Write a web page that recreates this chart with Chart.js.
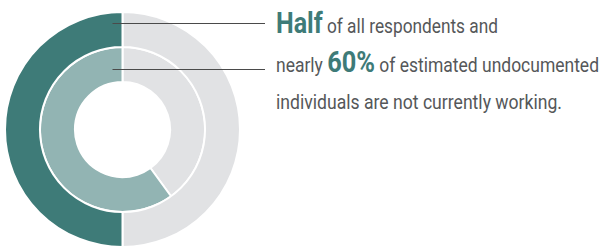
<!DOCTYPE html>
<html>
<head>
<meta charset="utf-8">
<script src="https://cdn.jsdelivr.net/npm/chart.js@4/dist/chart.umd.min.js"></script>
<style>
  html, body { margin: 0; padding: 0; background: #fff; }
  body { width: 603px; height: 248px; position: relative; overflow: hidden; }
  #wrap { position: absolute; left: 4px; top: 11px; width: 268px; height: 237px; }
  .t { position: absolute; left: 276px; top: 0; white-space: nowrap; color: #555759;
       font-family: Roboto, "Liberation Sans", sans-serif;
       font-size: 20px; line-height: 1; transform-origin: 0 0; }
  .b { color: #3e7b78; font-weight: bold; font-size: 29px; }
  .bl { display: inline-block; width: 0; height: 0; vertical-align: baseline; }
</style>
</head>
<body>
<div id="wrap"><canvas id="c"></canvas></div>
<div class="t" id="l1"><span class="b">Half</span> of all respondents and<span class="bl"></span></div>
<div class="t" id="l2">nearly <span class="b">60%</span> of estimated undocumented<span class="bl"></span></div>
<div class="t" id="l3">individuals are not currently working.<span class="bl"></span></div>
<script>
const categories = ["Other", "Not currently working"];
const allRespondents = [50, 50];
const undocumented = [40, 60];
const ringLabels = ["All respondents", "Estimated undocumented"];

// text layout: baseline y and right edge of each line as in the original
(function () {
  const lines = [['l1', 32.5, 498], ['l2', 72, 599], ['l3', 109, 562]];
  lines.forEach(([id, base, right]) => {
    const el = document.getElementById(id);
    const r = el.getBoundingClientRect();
    const b = el.querySelector('.bl').getBoundingClientRect().top;
    el.style.top = (base - (b - r.top)) + 'px';
    el.style.transform = 'scaleX(' + ((right - 276) / r.width) + ')';
  });
})();

const leaderLines = {
  id: 'leaderLines',
  afterDatasetsDraw(chart) {
    const ctx = chart.ctx;
    const canvasLeft = chart.canvas.getBoundingClientRect().left;
    const endX = 265 - canvasLeft;
    ctx.save();
    ctx.strokeStyle = '#4a4a4a';
    ctx.lineWidth = 1.2;
    chart.data.datasets.forEach((ds, i) => {
      const arc = chart.getDatasetMeta(i).data[1];
      const r = arc.innerRadius + (arc.outerRadius - arc.innerRadius) * (i === 0 ? 0.69 : 0.37);
      const y = Math.round(arc.y - r) + 0.5;
      ctx.beginPath();
      ctx.moveTo(arc.x - 10, y);
      ctx.lineTo(endX, y);
      ctx.stroke();
    });
    ctx.restore();
  }
};

new Chart(document.getElementById('c'), {
  type: 'doughnut',
  data: {
    labels: categories,
    datasets: [
      { label: ringLabels[0], data: allRespondents,
        backgroundColor: ['#e1e2e4', '#3e7b78'], borderColor: '#ffffff', borderWidth: 2 },
      { label: ringLabels[1], data: undocumented,
        backgroundColor: ['#e1e2e4', '#92b4b3'], borderColor: '#ffffff', borderWidth: 2 }
    ]
  },
  options: {
    responsive: true,
    maintainAspectRatio: false,
    animation: false,
    cutout: '40.5%',
    layout: { padding: { left: 0, top: 0, bottom: 0, right: 31 } },
    plugins: { legend: { display: false }, tooltip: { enabled: false } }
  },
  plugins: [leaderLines]
});
</script>
</body>
</html>
